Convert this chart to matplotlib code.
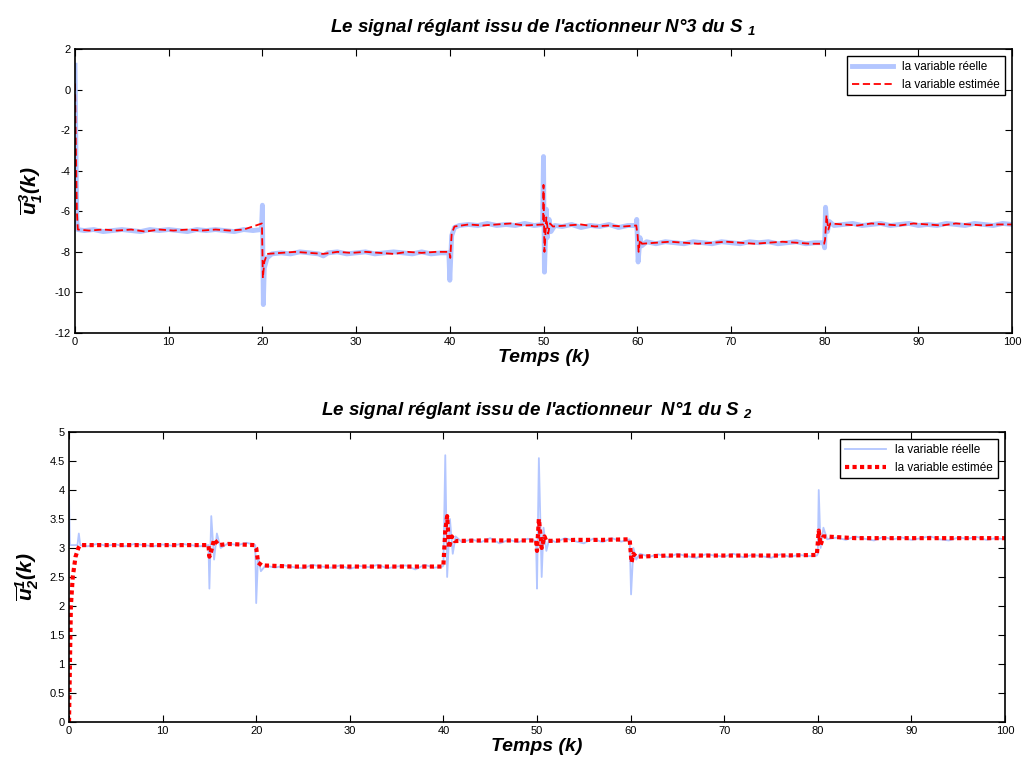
import numpy as np
import matplotlib.pyplot as plt

plt.rcParams['font.family'] = ['Liberation Sans', 'DejaVu Sans']
plt.rcParams['mathtext.fontset'] = 'custom'
plt.rcParams['mathtext.rm'] = 'Liberation Sans:bold:italic'
plt.rcParams['mathtext.it'] = 'Liberation Sans:bold:italic'
plt.rcParams['mathtext.bf'] = 'Liberation Sans:bold:italic'

# ---- S1, actionneur 3 ----
t1_real = [0, 0.1, 0.2, 0.3, 1, 2, 3, 4, 5, 6, 7, 8, 9, 10, 11, 12, 13, 14, 15, 16, 17, 18, 19, 19.9,
           20.0, 20.1, 20.2, 20.5, 21, 22, 23, 24, 25, 26, 26.5, 27, 28, 29, 30, 31, 32, 33, 34, 35, 36, 37, 38, 39, 39.9,
           40.0, 40.2, 40.5, 41, 42, 43, 44, 45, 46, 47, 48, 49, 49.9,
           50.0, 50.1, 50.3, 50.4, 50.6, 50.8, 51.2, 52, 53, 54, 55, 56, 57, 58, 59, 59.9,
           59.95, 60.1, 60.3, 60.5, 61, 62, 63, 64, 65, 66, 67, 68, 69, 70, 71, 72, 73, 74, 75, 76, 77, 78, 79, 79.9,
           80.0, 80.1, 80.3, 80.5, 81, 82, 83, 84, 85, 86, 87, 88, 89, 90, 91, 92, 93, 94, 95, 96, 97, 98, 99, 100]
u1_real = [1.2, -3.0, -6.5, -6.9, -6.95, -6.9, -7.0, -6.95, -6.9, -6.95, -7.0, -6.9, -6.95, -6.9, -6.95, -7.0, -6.9, -6.95, -6.9, -6.95, -7.0, -6.9, -6.95, -6.9,
           -5.7, -10.6, -8.8, -8.3, -8.1, -8.05, -8.1, -8.0, -8.05, -8.1, -8.2, -8.05, -8.0, -8.1, -8.05, -8.0, -8.1, -8.05, -8.0, -8.05, -8.1, -8.0, -8.1, -8.05, -8.05,
           -9.4, -7.2, -6.8, -6.7, -6.65, -6.7, -6.6, -6.7, -6.65, -6.7, -6.6, -6.7, -6.65,
           -3.3, -9.0, -5.9, -7.3, -6.4, -7.0, -6.7, -6.75, -6.65, -6.8, -6.7, -6.75, -6.65, -6.8, -6.7, -6.7,
           -6.4, -8.5, -7.3, -7.7, -7.5, -7.6, -7.5, -7.55, -7.6, -7.5, -7.55, -7.6, -7.5, -7.55, -7.6, -7.5, -7.55, -7.5, -7.6, -7.55, -7.5, -7.6, -7.55, -7.55,
           -7.8, -5.8, -7.0, -6.5, -6.7, -6.65, -6.6, -6.7, -6.65, -6.6, -6.7, -6.65, -6.6, -6.7, -6.65, -6.7, -6.6, -6.65, -6.7, -6.6, -6.65, -6.7, -6.6, -6.65]

t1_est = [0, 0.1, 0.2, 0.3, 1.5, 3, 4.5, 6, 7.5, 9, 10.5, 12, 13.5, 15, 16.5, 18, 19.95,
          20.05, 20.2, 20.5, 22, 23.5, 25, 26.5, 28, 29.5, 31, 32.5, 34, 35.5, 37, 38.5, 39.95,
          40.05, 40.2, 40.5, 42, 43.5, 45, 46.5, 48, 49.95,
          50.0, 50.1, 50.3, 50.5, 50.7, 51, 52.5, 54, 55.5, 57, 58.5, 59.9,
          60.05, 60.15, 60.3, 60.5, 62, 63.5, 65, 66.5, 68, 69.5, 71, 72.5, 74, 75.5, 77, 78.5, 79.95,
          80.05, 80.2, 80.4, 80.6, 82, 83.5, 85, 86.5, 88, 89.5, 91, 92.5, 94, 95.5, 97, 98.5, 100]
u1_est = [0.3, -3.0, -6.0, -6.9, -6.95, -6.9, -6.95, -6.9, -7.0, -6.9, -6.95, -6.9, -6.95, -6.9, -6.95, -6.9, -6.6,
          -9.3, -8.5, -8.1, -8.05, -8.0, -8.05, -8.1, -8.0, -8.05, -8.0, -8.05, -8.1, -8.0, -8.05, -8.0, -8.0,
          -8.3, -7.1, -6.75, -6.65, -6.7, -6.65, -6.6, -6.7, -6.65,
          -4.7, -8.0, -6.3, -7.1, -6.6, -6.75, -6.7, -6.65, -6.75, -6.7, -6.75, -6.7,
          -7.2, -8.0, -7.4, -7.6, -7.55, -7.5, -7.55, -7.6, -7.55, -7.5, -7.55, -7.6, -7.55, -7.5, -7.55, -7.6, -7.6,
          -7.4, -6.2, -6.9, -6.6, -6.65, -6.7, -6.6, -6.65, -6.7, -6.6, -6.65, -6.7, -6.6, -6.65, -6.7, -6.65, -6.65]

# ---- S2, actionneur 1 ----
t2_real = [0, 0.1, 0.9, 1.05, 1.2, 2, 3, 4, 5, 6, 7, 8, 9, 10, 11, 12, 13, 14, 14.9,
           15.0, 15.2, 15.5, 15.8, 16.2, 17, 18, 19, 19.9,
           20.0, 20.2, 20.5, 21, 22, 23, 24, 25, 26, 27, 28, 29, 30, 31, 32, 33, 34, 35, 36, 37, 38, 39, 39.9,
           40.0, 40.2, 40.4, 40.7, 41.0, 41.3, 42, 43, 44, 45, 46, 47, 48, 49, 49.9,
           50.0, 50.2, 50.5, 50.7, 51.0, 51.3, 52, 53, 54, 55, 56, 57, 58, 59, 59.9,
           60.05, 60.3, 60.6, 61, 62, 63, 64, 65, 66, 67, 68, 69, 70, 71, 72, 73, 74, 75, 76, 77, 78, 79, 79.9,
           80.0, 80.1, 80.3, 80.6, 81, 82, 83, 84, 85, 86, 87, 88, 89, 90, 91, 92, 93, 94, 95, 96, 97, 98, 99, 100]
u2_real = [3.9, 3.05, 3.05, 3.25, 3.05, 3.03, 3.07, 3.04, 3.06, 3.03, 3.07, 3.05, 3.03, 3.06, 3.04, 3.07, 3.05, 3.03, 3.05,
           2.3, 3.55, 2.8, 3.25, 3.0, 3.08, 3.05, 3.09, 3.05,
           2.05, 2.85, 2.6, 2.7, 2.66, 2.7, 2.67, 2.65, 2.71, 2.68, 2.66, 2.7, 2.64, 2.69, 2.67, 2.71, 2.65, 2.68, 2.7, 2.63, 2.71, 2.66, 2.68,
           2.7, 4.6, 2.5, 3.5, 2.9, 3.2, 3.1, 3.15, 3.1, 3.17, 3.08, 3.14, 3.1, 3.16, 3.12,
           2.3, 4.55, 2.5, 3.35, 2.95, 3.15, 3.1, 3.17, 3.12, 3.08, 3.16, 3.1, 3.17, 3.11, 3.15,
           2.2, 3.0, 2.8, 2.9, 2.85, 2.89, 2.84, 2.9, 2.86, 2.83, 2.89, 2.87, 2.85, 2.9, 2.84, 2.88, 2.86, 2.83, 2.89, 2.85, 2.88, 2.86, 2.87,
           2.9, 4.0, 3.0, 3.35, 3.15, 3.18, 3.14, 3.2, 3.16, 3.13, 3.19, 3.15, 3.18, 3.14, 3.17, 3.2, 3.15, 3.13, 3.18, 3.16, 3.19, 3.14, 3.17, 3.15]

t2_est = [0, 0.1, 0.2, 0.4, 0.7, 1.0, 1.2, 4, 8, 12, 14.9,
          15.0, 15.2, 15.5, 16, 17, 19.8,
          20.0, 20.2, 20.6, 24, 28, 32, 36, 39.9,
          40.0, 40.2, 40.4, 40.6, 40.9, 41.2, 44, 47, 49.9,
          50.0, 50.2, 50.5, 50.8, 51, 54, 57, 59.9,
          60.1, 60.3, 60.6, 64, 68, 72, 76, 79.9,
          80.1, 80.3, 80.6, 84, 88, 92, 96, 100]
u2_est = [0.0, 1.0, 2.0, 2.5, 2.85, 3.0, 3.05, 3.05, 3.05, 3.05, 3.05,
          2.85, 2.95, 3.15, 3.05, 3.07, 3.05,
          3.0, 2.75, 2.7, 2.68, 2.68, 2.68, 2.68, 2.68,
          2.7, 3.3, 3.55, 3.0, 3.2, 3.12, 3.13, 3.13, 3.13,
          2.95, 3.5, 3.0, 3.2, 3.12, 3.14, 3.14, 3.15,
          2.75, 2.9, 2.85, 2.87, 2.87, 2.87, 2.87, 2.88,
          3.3, 3.05, 3.2, 3.17, 3.17, 3.17, 3.17, 3.17]

real_color = '#b3c6ff'
est_color = '#ff0000'

fig = plt.figure(figsize=(10.24, 7.65), dpi=100)
ax1 = fig.add_axes([75 / 1024, 1 - 333 / 765, (1012 - 75) / 1024, (333 - 49) / 765])
ax2 = fig.add_axes([69 / 1024, 1 - 722 / 765, (1005 - 69) / 1024, (722 - 432) / 765])


def style_axes(ax, yticks, ylim):
    ax.set_xlim(0, 100)
    ax.set_ylim(*ylim)
    ax.set_xticks(range(0, 101, 10))
    ax.set_yticks(yticks)
    ax.tick_params(direction='in', top=True, right=True, labelsize=8, length=5, pad=3)
    for s in ax.spines.values():
        s.set_linewidth(1.2)


title_kw = dict(fontsize=13.5, fontweight='bold', fontstyle='italic', pad=12)
xlabel_kw = dict(fontsize=14, fontweight='bold', fontstyle='italic', labelpad=1)
legend_kw = dict(loc='upper right', fontsize=8.5, frameon=True, fancybox=False,
                 edgecolor='black', framealpha=1, handlelength=3.5, borderaxespad=0.6)

ax1.plot(t1_real, u1_real, color=real_color, lw=3.5, label='la variable réelle')
ax1.plot(t1_est, u1_est, color=est_color, lw=1.3, ls=(0, (4, 2)), label='la variable estimée')
style_axes(ax1, np.arange(-12, 3, 2), (-12, 2))
ax1.set_yticklabels([str(v) for v in range(-12, 3, 2)])
ax1.set_title("Le signal réglant issu de l'actionneur N°3 du S $_{1}$", **title_kw)
ax1.set_xlabel('Temps (k)', **xlabel_kw)
ax1.set_ylabel(r'$\overline{u}_{1}^{3}(k)$', fontsize=15, labelpad=7)
ax1.legend(**legend_kw)

ax2.plot(t2_real, u2_real, color=real_color, lw=1.3, label='la variable réelle')
ax2.plot(t2_est, u2_est, color=est_color, lw=3, ls=(0, (1, 0.8)), label='la variable estimée')
style_axes(ax2, np.arange(0, 5.01, 0.5), (0, 5))
ax2.set_yticklabels(['0', '0.5', '1', '1.5', '2', '2.5', '3', '3.5', '4', '4.5', '5'])
ax2.set_title("Le signal réglant issu de l'actionneur  N°1 du S $_{2}$", **title_kw)
ax2.set_xlabel('Temps (k)', **xlabel_kw)
ax2.set_ylabel(r'$\overline{u}_{2}^{1}(k)$', fontsize=15, labelpad=6)
ax2.legend(**legend_kw)

fig.savefig('out.png', dpi=100)
